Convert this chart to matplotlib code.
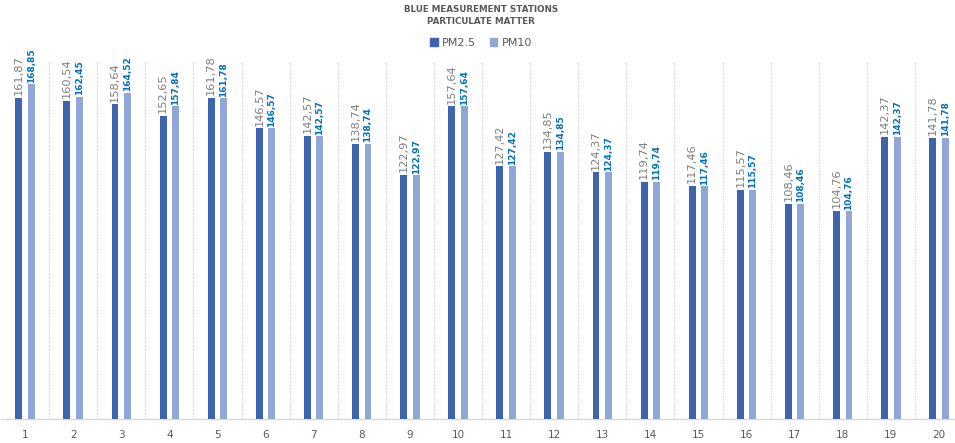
import matplotlib.pyplot as plt
import numpy as np
from matplotlib.patches import Patch

stations = [str(i) for i in range(1, 21)]
pm25 = [161.87, 160.54, 158.64, 152.65, 161.78, 146.57, 142.57, 138.74, 122.97, 157.64,
        127.42, 134.85, 124.37, 119.74, 117.46, 115.57, 108.46, 104.76, 142.37, 141.78]
pm10 = [168.85, 162.45, 164.52, 157.84, 161.78, 146.57, 142.57, 138.74, 122.97, 157.64,
        127.42, 134.85, 124.37, 119.74, 117.46, 115.57, 108.46, 104.76, 142.37, 141.78]

DARK = "#3E64AD"
LIGHT = "#8FA6D6"
GREY_TEXT = "#7F7F7F"
BLUE_TEXT = "#0070C0"


def fmt(v):
    return f"{v:.2f}".replace(".", ",")


W, H = 955, 443
fig = plt.figure(figsize=(W / 100, H / 100), dpi=100)
ax = fig.add_axes([1 / W, 24 / H, 962 / W, 357 / H])

x = np.arange(len(stations))
bw = 0.145
off = 0.13
ax.bar(x - off, pm25, width=bw, color=DARK, zorder=3)
ax.bar(x + off, pm10, width=bw, color=LIGHT, zorder=3)

for xi, a, b in zip(x, pm25, pm10):
    ax.annotate(fmt(a), (xi - off, a), xytext=(0, 2), textcoords="offset points",
                rotation=90, ha="center", va="bottom", fontsize=8.2, color=GREY_TEXT)
    ax.annotate(fmt(b), (xi + off, b), xytext=(0, 1), textcoords="offset points",
                rotation=90, ha="center", va="bottom", fontsize=6.5, color=BLUE_TEXT,
                fontweight="bold")

ax.set_xlim(-0.5, len(stations) - 0.5)
ax.set_ylim(0, 180)
ax.set_yticks([])
ax.set_xticks(x)
ax.set_xticklabels(stations, fontsize=7.5, color="#595959")
ax.tick_params(axis="x", length=0, pad=8)

for b in np.arange(0.5, len(stations) - 1, 1.0):
    ax.axvline(b, color="#C8C8C8", linewidth=0.8, linestyle=(0, (1, 1.5)), zorder=1)

for side in ("top", "right", "left"):
    ax.spines[side].set_visible(False)
ax.spines["bottom"].set_color("#D9D9D9")
ax.spines["bottom"].set_linewidth(1.0)

fig.text(481 / W, 1 - 9 / H, "BLUE MEASUREMENT STATIONS", ha="center", va="center",
         fontsize=6.3, fontweight="bold", color="#595959")
fig.text(481 / W, 1 - 21 / H, "PARTICULATE MATTER", ha="center", va="center",
         fontsize=6.3, fontweight="bold", color="#595959")

handles = [Patch(color=DARK, label="PM2.5"), Patch(color=LIGHT, label="PM10")]
leg = fig.legend(handles=handles, loc="center", bbox_to_anchor=(481 / W, 1 - 43 / H),
                 ncol=2, frameon=False, fontsize=8, handlelength=0.7, handleheight=0.7,
                 handletextpad=0.4, columnspacing=1.2)
for t in leg.get_texts():
    t.set_color("#595959")

fig.savefig("out.png", dpi=100)
